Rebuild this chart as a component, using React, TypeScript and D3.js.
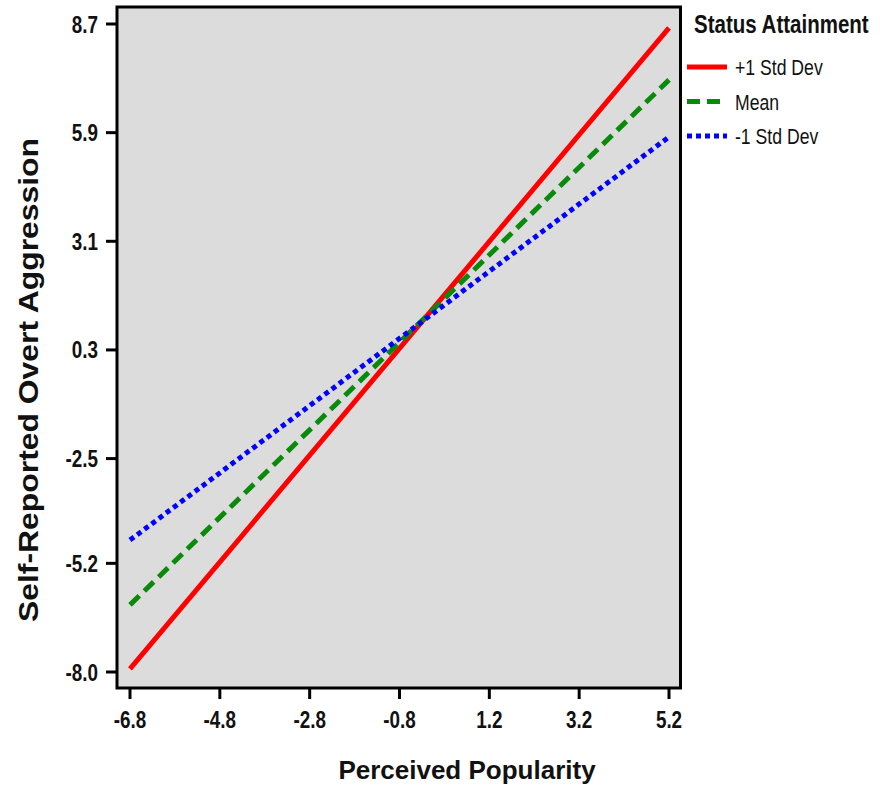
import React from "react";
import * as d3 from "d3";

const xTicks = [-6.8, -4.8, -2.8, -0.8, 1.2, 3.2, 5.2];
const yTicks = [8.7, 5.9, 3.1, 0.3, -2.5, -5.2, -8.0];
const xRange = [-6.8, 5.2];
const seriesNames = ["+1 Std Dev", "Mean", "-1 Std Dev"];
const plusOne = [-7.92, 8.6];
const meanVals = [-6.27, 7.26];
const minusOne = [-4.6, 5.79];

const series = [
  { name: seriesNames[0], values: plusOne, color: "#ff0000", dash: "none" },
  { name: seriesNames[1], values: meanVals, color: "#0a8a0a", dash: "13,7" },
  { name: seriesNames[2], values: minusOne, color: "#0000ff", dash: "5,4" },
];

const sans = "'Liberation Sans', Arial, sans-serif";
const SQ = 0.82;

export default function App() {
  const x = d3.scaleLinear().domain([-6.8, 5.2]).range([130, 669]);
  const y = d3.scaleLinear().domain([8.7, -8.0]).range([24, 672]);
  const line = d3
    .line<[number, number]>()
    .x((d) => x(d[0]))
    .y((d) => y(d[1]));

  return (
    <svg
      width={880}
      height={788}
      style={{ position: "absolute", left: 0, top: 0, background: "#fff" }}
    >
      <rect x={117} y={7} width={563.5} height={681} fill="#dcdcdc" stroke="none" />
      {series.map((s) => (
        <path
          key={s.name}
          d={line(xRange.map((xv, i) => [xv, s.values[i]]) as [number, number][]) || ""}
          fill="none"
          stroke={s.color}
          strokeWidth={5}
          strokeDasharray={s.dash}
        />
      ))}
      <rect x={117} y={7} width={563.5} height={681} fill="none" stroke="#000" strokeWidth={3} />
      {yTicks.map((t) => (
        <g key={"y" + t}>
          <line x1={106} x2={116} y1={y(t)} y2={y(t)} stroke="#000" strokeWidth={3} />
          <g transform={`translate(98,${y(t) + 8.5}) scale(${SQ},1)`}>
            <text textAnchor="end" fontFamily={sans} fontWeight="bold" fontSize={23} fill="#111">
              {t.toFixed(1)}
            </text>
          </g>
        </g>
      ))}
      {xTicks.map((t) => (
        <g key={"x" + t}>
          <line x1={x(t)} x2={x(t)} y1={689} y2={699} stroke="#000" strokeWidth={3} />
          <g transform={`translate(${x(t)},728) scale(${SQ},1)`}>
            <text textAnchor="middle" fontFamily={sans} fontWeight="bold" fontSize={23} fill="#111">
              {t.toFixed(1)}
            </text>
          </g>
        </g>
      ))}
      <text
        x={467}
        y={779}
        textAnchor="middle"
        fontFamily={sans}
        fontWeight="bold"
        fontSize={26}
        fill="#111"
      >
        Perceived Popularity
      </text>
      <text
        transform="translate(38,380) rotate(-90)"
        textAnchor="middle"
        fontFamily={sans}
        fontWeight="bold"
        fontSize={28}
        fill="#111"
        textLength={484}
        lengthAdjust="spacingAndGlyphs"
      >
        Self-Reported Overt Aggression
      </text>
      <g transform={`translate(694,33) scale(${SQ},1)`}>
        <text fontFamily={sans} fontWeight="bold" fontSize={25} fill="#111">
          Status Attainment
        </text>
      </g>
      {series.map((s, i) => {
        const ly = 67 + i * 34.5;
        return (
          <g key={"leg" + s.name}>
            <line
              x1={687}
              x2={727}
              y1={ly}
              y2={ly}
              stroke={s.color}
              strokeWidth={5}
              strokeDasharray={s.dash}
            />
            <g transform={`translate(735,${ly + 8}) scale(${SQ},1)`}>
              <text fontFamily={sans} fontSize={21.5} fill="#111">
                {s.name}
              </text>
            </g>
          </g>
        );
      })}
    </svg>
  );
}
